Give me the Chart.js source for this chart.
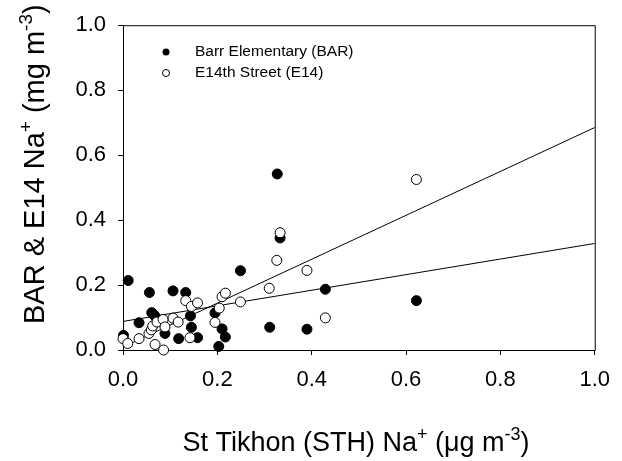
<!DOCTYPE html>
<html>
<head>
<meta charset="utf-8">
<script src="https://cdn.jsdelivr.net/npm/chart.js@4/dist/chart.umd.min.js"></script>
<style>
  html, body { margin: 0; padding: 0; background: #fff; }
</style>
</head>
<body>
<canvas id="grafico" width="622" height="461"></canvas>
<script>
// datos
const seriesNames = ['Barr Elementary (BAR)', 'E14th Street (E14)'];

const barX = [0.001, 0.011, 0.034, 0.056, 0.061, 0.067, 0.089, 0.106, 0.118, 0.133, 0.143, 0.145,
  0.158, 0.195, 0.203, 0.210, 0.217, 0.249, 0.311, 0.327, 0.333, 0.390, 0.429, 0.622];
const barY = [0.045, 0.214, 0.084, 0.177, 0.115, 0.106, 0.051, 0.182, 0.035, 0.177, 0.105, 0.070,
  0.038, 0.114, 0.011, 0.065, 0.040, 0.244, 0.070, 0.542, 0.345, 0.064, 0.187, 0.152];

const e14X = [0.000, 0.010, 0.034, 0.055, 0.060, 0.063, 0.068, 0.072, 0.085, 0.086, 0.089, 0.106,
  0.117, 0.133, 0.142, 0.145, 0.158, 0.195, 0.204, 0.210, 0.217, 0.249, 0.310, 0.326, 0.333,
  0.390, 0.429, 0.622];
const e14Y = [0.035, 0.020, 0.035, 0.051, 0.062, 0.074, 0.017, 0.086, 0.094, 0.000, 0.071, 0.098,
  0.086, 0.152, 0.038, 0.134, 0.145, 0.085, 0.129, 0.164, 0.175, 0.148, 0.190, 0.276, 0.361,
  0.245, 0.099, 0.525];

// rectas de regresion: [BAR, E14]
const fitIntercept = [0.088, 0.009];
const fitSlope = [0.240, 0.676];
const fitRange = [0, 1];

const tickValues = [0, 0.2, 0.4, 0.6, 0.8, 1.0];

const FUENTE = '"Liberation Sans", Arial, sans-serif';

function puntos(xs, ys) {
  return xs.map((x, i) => ({ x: x, y: ys[i] }));
}

function recta(k) {
  return fitRange.map(x => ({ x: x, y: fitIntercept[k] + fitSlope[k] * x }));
}

// texto con superindices, segmentos [texto, esSuper]
function anchoTexto(ctx, partes, size) {
  let w = 0;
  partes.forEach(([t, sup]) => {
    ctx.font = (sup ? Math.round(size * 0.65) : size) + 'px ' + FUENTE;
    w += ctx.measureText(t).width;
  });
  return w;
}

function dibujarTexto(ctx, partes, size, x, y) {
  let cx = x;
  partes.forEach(([t, sup]) => {
    ctx.font = (sup ? Math.round(size * 0.65) : size) + 'px ' + FUENTE;
    ctx.fillText(t, cx, sup ? y - size * 0.42 : y);
    cx += ctx.measureText(t).width;
  });
}

const tituloX = [['St Tikhon (STH) Na', false], ['+', true], [' (\u03bcg m', false], ['-3', true], [')', false]];
const tituloY = [['BAR & E14 Na', false], ['+', true], [' (mg m', false], ['-3', true], [')', false]];

const marcoYTitulos = {
  id: 'marcoYTitulos',
  beforeDatasetsDraw(chart) {
    const { ctx, chartArea } = chart;
    ctx.save();
    ctx.strokeStyle = '#000';
    ctx.lineWidth = 1;
    ctx.strokeRect(chartArea.left + 0.5, chartArea.top + 0.5,
      chartArea.right - chartArea.left, chartArea.bottom - chartArea.top);
    ctx.restore();
  },
  afterDraw(chart) {
    const { ctx, chartArea } = chart;
    ctx.save();
    ctx.fillStyle = '#000';
    ctx.textBaseline = 'alphabetic';

    // titulo eje x
    const sizeX = 27;
    const wX = anchoTexto(ctx, tituloX, sizeX);
    dibujarTexto(ctx, tituloX, sizeX, 356 - wX / 2, 451);

    // titulo eje y
    const sizeY = 29;
    ctx.translate(44, 324);
    ctx.rotate(-Math.PI / 2);
    dibujarTexto(ctx, tituloY, sizeY, 0, 0);
    ctx.restore();

    // leyenda
    ctx.save();
    ctx.font = '15.5px ' + FUENTE;
    ctx.textBaseline = 'middle';
    ctx.fillStyle = '#000';
    const filas = [52, 73];
    filas.forEach((fy, i) => {
      ctx.beginPath();
      ctx.arc(166, fy, 3.5, 0, Math.PI * 2);
      if (i === 0) {
        ctx.fill();
      } else {
        ctx.fillStyle = '#fff';
        ctx.fill();
        ctx.lineWidth = 1;
        ctx.strokeStyle = '#000';
        ctx.stroke();
        ctx.fillStyle = '#000';
      }
      ctx.fillText(seriesNames[i], 195, fy);
    });
    ctx.restore();
  }
};

const config = {
  type: 'scatter',
  data: {
    datasets: [
      {
        label: seriesNames[1],
        data: puntos(e14X, e14Y),
        pointRadius: 5,
        pointBackgroundColor: '#fff',
        pointBorderColor: '#000',
        pointBorderWidth: 1,
        clip: false,
        order: 0
      },
      {
        label: seriesNames[0],
        data: puntos(barX, barY),
        pointRadius: 5,
        pointBackgroundColor: '#000',
        pointBorderColor: '#000',
        pointBorderWidth: 1,
        clip: false,
        order: 1
      },
      {
        type: 'line',
        label: 'BAR fit',
        data: recta(0),
        borderColor: '#000',
        borderWidth: 1,
        pointRadius: 0,
        fill: false,
        order: 2
      },
      {
        type: 'line',
        label: 'E14 fit',
        data: recta(1),
        borderColor: '#000',
        borderWidth: 1,
        pointRadius: 0,
        fill: false,
        order: 2
      }
    ]
  },
  options: {
    responsive: false,
    animation: false,
    layout: { padding: { left: 0, right: 26, top: 20, bottom: 0 } },
    plugins: {
      legend: { display: false },
      tooltip: { enabled: false }
    },
    scales: {
      x: {
        type: 'linear',
        min: 0,
        max: 1,
        afterBuildTicks: s => { s.ticks = tickValues.map(v => ({ value: v })); },
        afterFit: s => { s.height = 111; },
        ticks: {
          callback: v => v.toFixed(1),
          color: '#000',
          font: { family: FUENTE, size: 22 },
          padding: 12,
          maxRotation: 0
        },
        grid: { drawOnChartArea: false, drawTicks: true, tickLength: 5, color: '#000' },
        border: { display: true, color: '#000', width: 1 }
      },
      y: {
        type: 'linear',
        min: 0,
        max: 1,
        afterBuildTicks: s => { s.ticks = tickValues.map(v => ({ value: v })); },
        afterFit: s => { s.width = 123; },
        ticks: {
          callback: v => v.toFixed(1),
          color: '#000',
          font: { family: FUENTE, size: 22 },
          padding: 12
        },
        grid: { drawOnChartArea: false, drawTicks: true, tickLength: 5, color: '#000' },
        border: { display: true, color: '#000', width: 1 }
      }
    }
  },
  plugins: [marcoYTitulos]
};

const grafico = new Chart(document.getElementById('grafico').getContext('2d'), config);
</script>
</body>
</html>
